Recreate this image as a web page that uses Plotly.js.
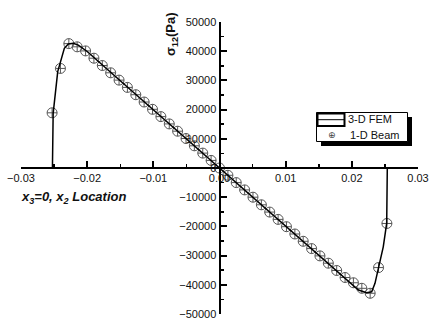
<!DOCTYPE html>
<html>
<head>
<meta charset="utf-8">
<script src="https://cdn.plot.ly/plotly-3.0.1.min.js"></script>
<style>html,body{margin:0;padding:0;background:#fff;}#chart{width:441px;height:331px;}</style>
</head>
<body>
<div id="chart"></div>
<script>
// 3-D FEM curve
const femX = [-0.02525, -0.02518, -0.02514, -0.02445, -0.0240, -0.02345, -0.02285, -0.0221, -0.02134, -0.0200, -0.0150, -0.0100, -0.0050, 0,
              0.0050, 0.0100, 0.0150, 0.0200, 0.0210, 0.02225, 0.0230, 0.0235, 0.0240, 0.02475, 0.02527, 0.02536];
const femY = [0, 10000, 18700, 33000, 36300, 41000, 42500, 42700, 42100, 39900, 29900, 19900, 9900, 0,
              -9900, -19900, -29900, -39900, -41800, -42700, -42400, -39500, -34000, -27000, -18900, 0];

// 1-D Beam points
const beamX = [-0.0253, -0.02404, -0.02277, -0.02151, -0.02024, -0.01898, -0.01771, -0.01645, -0.01518, -0.01392,
               -0.01265, -0.01139, -0.01012, -0.00886, -0.00759, -0.00633, -0.00506, -0.0038, -0.00253, -0.00127, 0,
               0.00127, 0.00253, 0.0038, 0.00506, 0.00633, 0.00759, 0.00886, 0.01012, 0.01139, 0.01265,
               0.01392, 0.01518, 0.01645, 0.01771, 0.01898, 0.02024, 0.02151, 0.02277, 0.02404, 0.0253];
const beamY = [18900, 34100, 42600, 41500, 40100, 37600, 35100, 32600, 30100, 27600,
               25100, 22600, 20100, 17600, 15100, 12600, 10100, 7600, 5100, 2600, 0,
               -2500, -5000, -7500, -10000, -12600, -15100, -17600, -20100, -22600, -25100,
               -27600, -30100, -32600, -35100, -37500, -39300, -41200, -42900, -34100, -19000];

const xTickFormat = '.2f';
const seriesNames = ['3-D FEM', '1-D Beam'];

const FONT = 'Liberation Sans, Arial, sans-serif';
const PX = p => (p - 21) / 397;
const PY = p => (314 - p) / 292;

const traces = [
  {x: beamX, y: beamY, type: 'scatter', mode: 'markers', name: seriesNames[1],
   marker: {symbol: 'circle-cross-open', size: 10, color: '#555', line: {width: 1, color: '#555'}},
   showlegend: false, hoverinfo: 'skip'},
  {x: femX, y: femY, type: 'scatter', mode: 'lines', name: seriesNames[0],
   line: {color: '#000', width: 1.5}, showlegend: false, hoverinfo: 'skip'}
];

const layout = {
  width: 441, height: 331,
  margin: {l: 21, r: 23, t: 22, b: 17, pad: 0},
  paper_bgcolor: '#fff', plot_bgcolor: '#fff',
  showlegend: false,
  xaxis: {
    range: [-0.03, 0.03], anchor: 'free', position: 0.5,
    showline: true, linecolor: '#000', linewidth: 2,
    ticks: 'inside', ticklen: 6, tickwidth: 2, tickcolor: '#000',
    tick0: 0, dtick: 0.01, tickformat: xTickFormat,
    minor: {ticks: 'inside', ticklen: 3, tickwidth: 1.5, tickcolor: '#000', dtick: 0.005},
    showgrid: false, zeroline: false,
    tickfont: {family: FONT, size: 11, color: '#111'}
  },
  yaxis: {
    range: [-50000, 50000], anchor: 'free', position: 0.5,
    showline: true, linecolor: '#000', linewidth: 2,
    ticks: 'inside', ticklen: 6, tickwidth: 2, tickcolor: '#000',
    tick0: 0, dtick: 10000, tickformat: 'd',
    minor: {ticks: 'inside', ticklen: 3, tickwidth: 1.5, tickcolor: '#000', dtick: 5000},
    showgrid: false, zeroline: false,
    tickfont: {family: FONT, size: 11, color: '#111'}
  },
  shapes: [
    {type: 'rect', xref: 'paper', yref: 'paper', x0: PX(321), x1: PX(412), y0: PY(146), y1: PY(117),
     fillcolor: '#000', line: {width: 0}},
    {type: 'rect', xref: 'paper', yref: 'paper', x0: PX(316.5), x1: PX(407.5), y0: PY(141.5), y1: PY(112.5),
     fillcolor: '#fff', line: {color: '#000', width: 1}},
    {type: 'rect', xref: 'paper', yref: 'paper', x0: PX(317.5), x1: PX(344.5), y0: PY(126), y1: PY(113.5),
     fillcolor: '#fff', line: {color: '#000', width: 2}},
    {type: 'line', xref: 'paper', yref: 'paper', x0: PX(317.5), x1: PX(344.5), y0: PY(119.7), y1: PY(119.7),
     line: {color: '#000', width: 1}}
  ],
  annotations: [
    {xref: 'paper', yref: 'paper', x: PX(171), y: PY(34), text: '<b>σ<sub>12</sub>(Pa)</b>', textangle: -90,
     showarrow: false, xanchor: 'center', yanchor: 'middle', font: {family: FONT, size: 13, color: '#111'}},
    {xref: 'paper', yref: 'paper', x: PX(19), y: PY(197), text: '<b><i>x<sub>3</sub>=0, x<sub>2</sub> Location</i></b>',
     showarrow: false, xanchor: 'left', yanchor: 'middle', font: {family: FONT, size: 13, color: '#111'}},
    {xref: 'paper', yref: 'paper', x: PX(346), y: PY(119), text: seriesNames[0],
     showarrow: false, xanchor: 'left', yanchor: 'middle', font: {family: FONT, size: 11, color: '#111'}},
    {xref: 'paper', yref: 'paper', x: PX(348), y: PY(134.5), text: seriesNames[1],
     showarrow: false, xanchor: 'left', yanchor: 'middle', font: {family: FONT, size: 11, color: '#111'}},
    {xref: 'paper', yref: 'paper', x: PX(331.5), y: PY(134.5), text: '⊕',
     showarrow: false, xanchor: 'center', yanchor: 'middle', font: {family: 'DejaVu Sans, sans-serif', size: 9, color: '#444'}}
  ]
};

Plotly.newPlot('chart', traces, layout, {staticPlot: true, displayModeBar: false});
</script>
</body>
</html>
